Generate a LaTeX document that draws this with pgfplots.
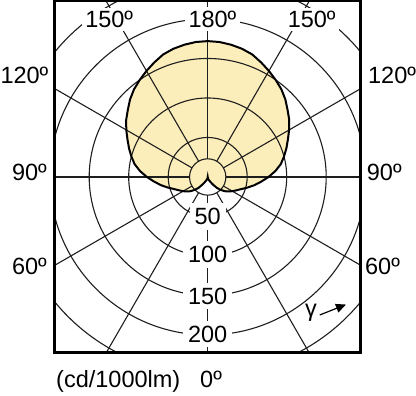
\documentclass[border=0pt]{standalone}
\usepackage{fontspec}
\setmainfont{Liberation Sans}
\usepackage{pgfplots}
\usepackage{pgfplotstable}
\pgfplotsset{compat=1.18}
\usetikzlibrary{arrows.meta}
\definecolor{lum}{RGB}{252,238,186}
\definecolor{grd}{RGB}{30,30,30}

\pgfplotstableread{
g I
-180 172
-175 171.5
-170 170
-165 168
-160 165
-155 160
-150 155
-145 150
-140 145
-135 139
-130 132
-125 126
-120 119
-115 112
-110 106
-105 100
-100 94
-95 86
-90 77
-85 68
-80 60
-75 52
-70 45
-65 40
-60 36
-55 32
-50 28
-45 23
-40 18
-35 12
-30 8
-20 4
-10 2
0 0
10 2
20 4
30 8
35 12
40 18
45 23
50 28
55 32
60 36
65 40
70 45
75 52
80 60
85 68
90 77
95 86
100 94
105 100
110 106
115 112
120 119
125 126
130 132
135 139
140 145
145 150
150 155
155 160
160 165
165 168
170 170
175 171.5
180 172
}\lumdata

\begin{document}
\begin{tikzpicture}[x=1pt,y=1pt,font=\fontsize{23.5}{28}\selectfont]
\path[use as bounding box] (0,0) rectangle (416,396);
\begin{axis}[
  at={(55pt,43.5pt)}, anchor=south west,
  width=305pt, height=352pt, scale only axis,
  xmin=-193.3, xmax=192.8, ymin=-222.2, ymax=223.4,
  axis line style={line width=3pt, black},
  ticks=none, clip=false, axis on top,
]
\addplot[fill=lum, draw=none] table[x expr={\thisrow{I}*sin(\thisrow{g})}, y expr={-\thisrow{I}*cos(\thisrow{g})}] {\lumdata} -- cycle;
\begin{scope}
\clip (axis cs:-193.3,-222.2) rectangle (axis cs:192.8,223.4);
\pgfplotsinvokeforeach{23,50,100,150,200,250}{
  \draw[grd, line width=1.1pt] (axis cs:0,0) circle[radius=#1];
}
\pgfplotsinvokeforeach{0,30,60,90,120,150,180,210,240,270,300,330}{
  \draw[grd, line width=1.1pt] (axis cs:{23*sin(#1)},{-23*cos(#1)}) -- (axis cs:{400*sin(#1)},{-400*cos(#1)});
}
\end{scope}
\addplot[black, line width=2pt] table[x expr={\thisrow{I}*sin(\thisrow{g})}, y expr={-\thisrow{I}*cos(\thisrow{g})}] {\lumdata} -- cycle;
% radial value labels
\node[fill=white, inner sep=5pt] at (axis cs:0,-50) {50};
\node[fill=white, inner sep=5pt] at (axis cs:0,-98) {100};
\node[fill=white, inner sep=5pt] at (axis cs:0,-150.6) {150};
\node[fill=white, inner sep=5pt] at (axis cs:0,-199) {200};
% top angle labels
\node[fill=white, inner sep=3.5pt] at (axis cs:6,199.7) {180º};
\node[fill=white, inner sep=3pt] at (axis cs:-124.7,199.7) {150º};
\node[fill=white, inner sep=3pt] at (axis cs:131.6,199.7) {150º};
% side labels
\node[anchor=east, inner sep=0pt] at (axis cs:-201.5,129.1) {120º};
\node[anchor=east, inner sep=0pt] at (axis cs:-203.4,5.7) {90º};
\node[anchor=east, inner sep=0pt] at (axis cs:-203.4,-113.3) {60º};
\node[anchor=west, inner sep=0pt] at (axis cs:202.9,129.1) {120º};
\node[anchor=west, inner sep=0pt] at (axis cs:201.3,5.7) {90º};
\node[anchor=west, inner sep=0pt] at (axis cs:199.1,-113.3) {60º};
% bottom
\node[anchor=base west, inner sep=0pt] at (axis cs:-192,-267.1) {(cd/1000lm)};
\node[anchor=base west, inner sep=0pt] at (axis cs:-9.7,-267.1) {0º};
% gamma arrow
\node[inner sep=0pt] at (axis cs:130.8,-171.5) {γ};
\draw[-{Triangle[length=10pt,width=9pt]}, line width=1.2pt] (axis cs:141.9,-174.7) -- (axis cs:175,-161.5);
\end{axis}
\end{tikzpicture}
\end{document}
